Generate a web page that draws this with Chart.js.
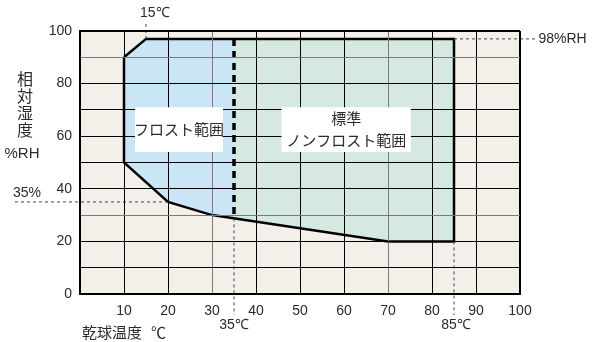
<!DOCTYPE html>
<html>
<head>
<meta charset="utf-8">
<script src="https://cdn.jsdelivr.net/npm/chart.js@4"></script>
<style>
  html, body { margin: 0; padding: 0; background: #fff; }
  #wrap { width: 596px; height: 342px; }
</style>
</head>
<body>
<div id="wrap"><canvas id="myChart" width="596" height="342"></canvas></div>
<script>
// operating range polygons (x: dry bulb temp C, y: %RH)
const frostX = [10, 10, 15, 35, 35, 30, 20, 10];
const frostY = [50, 90, 97, 97, 28.75, 30, 35, 50];
const nonFrostX = [35, 85, 85, 70, 35, 35];
const nonFrostY = [97, 97, 20, 20, 28.75, 97];
const outlineX = [10, 15, 85, 85, 70, 30, 20, 10, 10];
const outlineY = [90, 97, 97, 20, 20, 30, 35, 50, 90];
const boundaryX = [35, 35];
const boundaryY = [97, 28.75];

// guide lines running outside the plot
const guide15X = [15, 15];
const guide15Y = [97, 103.5];
const guide98X = [85, 103.5];
const guide98Y = [97, 97];
const guide35RhX = [20, -15];
const guide35RhY = [35, 35];
const guide35CX = [35, 35];
const guide35CY = [28.75, -8];
const guide85CX = [85, 85];
const guide85CY = [20, -8];

const xTickValues = [10, 20, 30, 40, 50, 60, 70, 80, 90, 100];
const yTickValues = [0, 20, 40, 60, 80, 100];

function pts(xs, ys) {
    return xs.map((x, i) => { return { x: x, y: ys[i] } })
}

const NUM_FONT = "'Liberation Sans', Arial, sans-serif";
const JP_FONT = "'Noto Sans CJK JP', 'Liberation Sans', sans-serif";
const TEXT = '#2b2b2b';

function guide(xs, ys) {
    return {
        data: pts(xs, ys),
        showLine: true,
        fill: false,
        borderColor: '#444',
        borderWidth: 1,
        borderDash: [3, 3],
        pointRadius: 0,
        clip: false,
        order: 0
    }
}

const bgPlugin = {
    id: 'bg',
    beforeDraw(chart) {
        const a = chart.chartArea;
        const ctx = chart.ctx;
        ctx.save();
        ctx.fillStyle = '#f3f0e9';
        ctx.fillRect(a.left, a.top, a.right - a.left, a.bottom - a.top);
        ctx.restore();
    }
};

// grid has to sit on top of the coloured regions
const gridOnTop = {
    id: 'gridOnTop',
    afterDatasetsDraw(chart) {
        chart.scales.x.drawGrid(chart.chartArea);
        chart.scales.y.drawGrid(chart.chartArea);
        chart.scales.x.drawBorder();
        chart.scales.y.drawBorder();
    }
};

const textPlugin = {
    id: 'texts',
    afterDraw(chart) {
        const ctx = chart.ctx;
        const xs = chart.scales.x, ys = chart.scales.y;
        const px = v => xs.getPixelForValue(v);
        const py = v => ys.getPixelForValue(v);
        ctx.save();
        ctx.fillStyle = TEXT;
        ctx.textBaseline = 'middle';

        // region label boxes
        function box(x0, x1, y0, y1, lines) {
            const l = px(x0), r = px(x1), t = py(y1), b = py(y0);
            ctx.fillStyle = '#ffffff';
            ctx.fillRect(l, t, r - l, b - t);
            ctx.fillStyle = TEXT;
            ctx.font = "15px " + JP_FONT;
            ctx.textAlign = 'center';
            const cx = (l + r) / 2, cy = (t + b) / 2;
            const lh = 22;
            lines.forEach((s, i) => {
                ctx.fillText(s, cx, cy + (i - (lines.length - 1) / 2) * lh);
            });
        }
        box(12.5, 32.5, 54, 71, ['フロスト範囲']);
        box(45.8, 75.2, 54, 71, ['標準', 'ノンフロスト範囲']);

        // guide labels
        ctx.font = "14px " + NUM_FONT;
        ctx.textAlign = 'left';
        ctx.fillText('15℃', px(15) - 6, py(103.5) - 9);
        ctx.fillText('98%RH', px(103.5) + 3, py(97));
        ctx.fillText('35%', 13, py(35) - 9);
        ctx.textAlign = 'center';
        ctx.fillText('35℃', px(35), 325);
        ctx.fillText('85℃', px(85) + 2, 325);

        // y axis title (vertical)
        ctx.font = "16px " + JP_FONT;
        ['相', '対', '湿', '度'].forEach((c, i) => {
            ctx.fillText(c, 25, 79 + i * 17);
        });
        ctx.font = "15px " + NUM_FONT;
        ctx.fillText('%RH', 22, 154);

        // x axis title
        ctx.textAlign = 'left';
        ctx.font = "15px " + JP_FONT;
        ctx.fillText('乾球温度', 82, 332);
        ctx.fillText('℃', 151, 332);
        ctx.restore();
    }
};

const data = {
    datasets: [
        {
            data: pts(frostX, frostY),
            showLine: true,
            fill: 'shape',
            backgroundColor: '#c9e5f6',
            borderWidth: 0,
            pointRadius: 0,
            order: 5
        },
        {
            data: pts(nonFrostX, nonFrostY),
            showLine: true,
            fill: 'shape',
            backgroundColor: '#d5e9e0',
            borderWidth: 0,
            pointRadius: 0,
            order: 4
        },
        {
            data: pts(outlineX, outlineY),
            showLine: true,
            fill: false,
            borderColor: '#000',
            borderWidth: 2.5,
            pointRadius: 0,
            order: 2
        },
        {
            data: pts(boundaryX, boundaryY),
            showLine: true,
            fill: false,
            borderColor: '#000',
            borderWidth: 3.5,
            borderDash: [7, 5],
            pointRadius: 0,
            order: 1
        },
        guide(guide15X, guide15Y),
        guide(guide98X, guide98Y),
        guide(guide35RhX, guide35RhY),
        guide(guide35CX, guide35CY),
        guide(guide85CX, guide85CY)
    ]
};

const config = {
    type: 'scatter',
    data: data,
    options: {
        responsive: false,
        animation: false,
        events: [],
        layout: {
            padding: { top: 31, right: 76, bottom: 0, left: 0 }
        },
        plugins: {
            legend: { display: false },
            tooltip: { enabled: false }
        },
        scales: {
            x: {
                type: 'linear',
                min: 0,
                max: 100,
                afterFit: (s) => { s.height = 48 },
                afterBuildTicks: (s) => { s.ticks = [0].concat(xTickValues).map(v => ({ value: v })) },
                ticks: {
                    callback: (v) => xTickValues.includes(v) ? String(v) : '',
                    font: { family: NUM_FONT, size: 14 },
                    color: TEXT,
                    padding: 9,
                    maxRotation: 0,
                    autoSkip: false
                },
                grid: {
                    drawTicks: false,
                    color: (c) => [30, 70].includes(c.tick.value) ? '#7a7a7a' : '#000',
                    lineWidth: (c) => c.tick.value === 100 ? 2 : 1
                },
                border: { color: '#000', width: 2 }
            },
            y: {
                type: 'linear',
                min: 0,
                max: 100,
                afterFit: (s) => { s.width = 80 },
                ticks: {
                    stepSize: 10,
                    callback: (v) => yTickValues.includes(v) ? String(v) : '',
                    font: { family: NUM_FONT, size: 14 },
                    color: TEXT,
                    padding: 8,
                    autoSkip: false
                },
                grid: {
                    drawTicks: false,
                    color: (c) => [30, 90].includes(c.tick.value) ? '#7a7a7a' : '#000',
                    lineWidth: (c) => c.tick.value === 100 ? 2 : 1
                },
                border: { color: '#000', width: 2 }
            }
        }
    },
    plugins: [bgPlugin, gridOnTop, textPlugin]
};

const myChart = new Chart(document.getElementById('myChart'), config);
</script>
</body>
</html>
